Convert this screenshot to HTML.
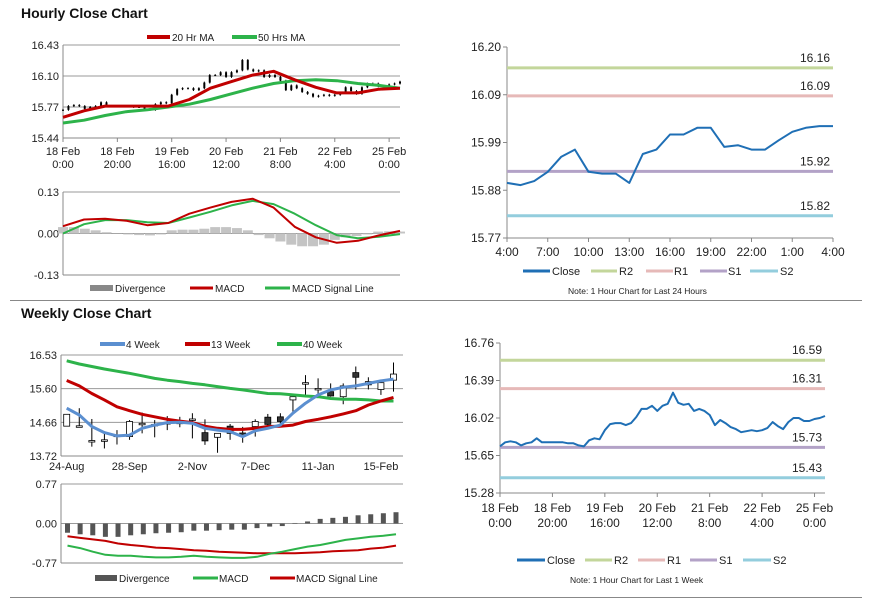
<!DOCTYPE html>
<html><head><meta charset="utf-8">
<style>
html,body{margin:0;padding:0;background:#fff;}
svg{display:block;font-family:"Liberation Sans",Arial,sans-serif;}
</style></head>
<body>
<svg id="root" width="873" height="601" viewBox="0 0 873 601">
  <text x="21" y="18" font-size="14" font-weight="bold" fill="#111">Hourly Close Chart</text>
  <line x1="10" y1="300.5" x2="862" y2="300.5" stroke="#888" stroke-width="1"/>
  <text x="21" y="318" font-size="14" font-weight="bold" fill="#111">Weekly Close Chart</text>
  <line x1="10" y1="597.5" x2="862" y2="597.5" stroke="#888" stroke-width="1"/>

  <g font-size="10" fill="#222">
    <line x1="147" y1="37" x2="170" y2="37" stroke="#c00000" stroke-width="4"/>
    <text x="172" y="41">20 Hr MA</text>
    <line x1="232" y1="37" x2="257" y2="37" stroke="#2db34a" stroke-width="4"/>
    <text x="258" y="41">50 Hrs MA</text>
  </g>
  <g font-size="10" fill="#222">
    <rect x="90" y="285" width="23" height="6" fill="#888"/>
    <text x="115" y="292">Divergence</text>
    <line x1="190" y1="288" x2="213" y2="288" stroke="#c00000" stroke-width="3"/>
    <text x="215" y="292">MACD</text>
    <line x1="265" y1="288" x2="290" y2="288" stroke="#2db34a" stroke-width="3"/>
    <text x="292" y="292">MACD Signal Line</text>
  </g>
  <g font-size="10" fill="#222">
    <line x1="100" y1="344" x2="125" y2="344" stroke="#5b8fd0" stroke-width="4"/>
    <text x="126" y="348">4 Week</text>
    <line x1="185" y1="344" x2="210" y2="344" stroke="#c00000" stroke-width="4"/>
    <text x="211" y="348">13 Week</text>
    <line x1="277" y1="344" x2="302" y2="344" stroke="#2db34a" stroke-width="4"/>
    <text x="303" y="348">40 Week</text>
  </g>
  <g font-size="10" fill="#222">
    <rect x="95" y="575" width="22" height="6" fill="#555"/>
    <text x="119" y="582">Divergence</text>
    <line x1="193" y1="578" x2="218" y2="578" stroke="#2db34a" stroke-width="3"/>
    <text x="219" y="582">MACD</text>
    <line x1="270" y1="578" x2="295" y2="578" stroke="#c00000" stroke-width="3"/>
    <text x="296" y="582">MACD Signal Line</text>
  </g>
  <g font-size="11" fill="#222">
    <line x1="523" y1="271" x2="550" y2="271" stroke="#1f6fb5" stroke-width="3"/>
    <text x="552" y="275">Close</text>
    <line x1="591" y1="271" x2="617" y2="271" stroke="#c3d69b" stroke-width="3"/>
    <text x="619" y="275">R2</text>
    <line x1="646" y1="271" x2="673" y2="271" stroke="#e6b9b8" stroke-width="3"/>
    <text x="674" y="275">R1</text>
    <line x1="700" y1="271" x2="727" y2="271" stroke="#b3a2c7" stroke-width="3"/>
    <text x="728" y="275">S1</text>
    <line x1="750" y1="271" x2="778" y2="271" stroke="#93cddd" stroke-width="3"/>
    <text x="780" y="275">S2</text>
  </g>
  <text x="568" y="294" font-size="8.5" fill="#222">Note: 1 Hour Chart for Last 24 Hours</text>
  <g font-size="11" fill="#222">
    <line x1="517" y1="560" x2="545" y2="560" stroke="#1f6fb5" stroke-width="3"/>
    <text x="547" y="564">Close</text>
    <line x1="585" y1="560" x2="612" y2="560" stroke="#c3d69b" stroke-width="3"/>
    <text x="614" y="564">R2</text>
    <line x1="638" y1="560" x2="665" y2="560" stroke="#e6b9b8" stroke-width="3"/>
    <text x="667" y="564">R1</text>
    <line x1="690" y1="560" x2="717" y2="560" stroke="#b3a2c7" stroke-width="3"/>
    <text x="719" y="564">S1</text>
    <line x1="743" y1="560" x2="771" y2="560" stroke="#93cddd" stroke-width="3"/>
    <text x="773" y="564">S2</text>
  </g>
  <text x="570" y="583" font-size="8.5" fill="#222">Note: 1 Hour Chart for Last 1 Week</text>
</svg>
<script>
const hourlyClose=[15.74,15.78,15.79,15.78,15.75,15.77,15.78,15.82,15.78,15.78,15.78,15.78,15.78,15.77,15.77,15.75,15.74,15.80,15.82,15.81,15.90,15.96,15.97,15.97,15.95,15.97,16.03,16.11,16.11,16.14,16.09,16.14,16.16,16.27,16.17,16.15,16.16,16.09,16.11,16.09,16.05,15.95,16.00,15.97,15.93,15.91,15.88,15.89,15.90,15.89,15.90,15.92,15.98,15.94,15.91,15.98,16.02,16.02,15.99,15.99,16.01,16.02,16.04];
const ma20=[15.66,15.73,15.78,15.78,15.78,15.78,15.85,15.97,16.04,16.11,16.15,16.06,15.98,15.92,15.92,15.96,15.97];
const ma50=[15.60,15.63,15.68,15.72,15.74,15.77,15.80,15.85,15.91,15.97,16.02,16.05,16.06,16.05,16.02,16.00,15.97];
const hMacd=[0.023,0.044,0.046,0.040,0.026,0.033,0.062,0.081,0.099,0.109,0.081,0.021,-0.012,-0.029,-0.023,-0.006,0.008];
const hSignal=[0,0.029,0.042,0.042,0.035,0.033,0.050,0.068,0.088,0.102,0.092,0.062,0.026,-0.005,-0.015,-0.010,-0.002];
const hDiv=[0.02,0.02,0.015,0.01,0.004,0.001,-0.003,-0.005,-0.006,-0.003,0.01,0.012,0.012,0.015,0.02,0.02,0.017,0.01,-0.005,-0.015,-0.025,-0.035,-0.04,-0.04,-0.035,-0.02,-0.012,-0.008,-0.003,0.006,0.007,0.006];
const hourTicks=[["18 Feb","0:00"],["18 Feb","20:00"],["19 Feb","16:00"],["20 Feb","12:00"],["21 Feb","8:00"],["22 Feb","4:00"],["25 Feb","0:00"]];
const hourPriceTicks=["16.43","16.10","15.77","15.44"];
const hourMacdTicks=["0.13","0.00","-0.13"];
const wOpen=[14.55,14.56,14.15,14.17,14.30,14.26,14.63,14.60,14.65,14.66,14.75,14.37,14.24,14.55,14.36,14.54,14.80,14.81,15.28,15.76,15.60,15.51,15.37,16.04,15.70,15.57,15.83];
const wClose=[14.88,14.56,14.15,14.17,14.30,14.68,14.63,14.60,14.65,14.66,14.75,14.14,14.35,14.35,14.27,14.68,14.60,14.68,15.37,15.76,15.60,15.39,15.67,15.91,15.79,15.76,16.00];
const wHigh=[14.88,15.05,14.75,14.40,14.44,14.72,14.93,14.72,14.83,14.81,14.91,14.74,14.26,14.61,14.53,14.74,14.89,14.91,15.37,15.97,15.88,15.74,15.74,16.21,15.91,15.83,16.32];
const wLow=[14.55,14.52,13.98,13.93,14.04,14.17,14.35,14.24,14.44,14.52,14.21,14.03,13.81,14.17,14.09,14.26,14.55,14.55,14.91,15.37,15.37,15.37,15.16,15.57,15.57,15.42,15.51];
const w4=[15.05,14.86,14.54,14.37,14.28,14.30,14.49,14.58,14.65,14.66,14.63,14.49,14.44,14.40,14.26,14.42,14.49,14.58,14.91,15.19,15.42,15.56,15.63,15.67,15.74,15.81,15.86];
const w13=[15.82,15.67,15.46,15.28,15.09,14.98,14.88,14.81,14.74,14.69,14.65,14.55,14.49,14.46,14.46,14.49,14.54,14.55,14.58,14.68,14.74,14.81,14.89,14.98,15.14,15.25,15.35];
const w40=[16.37,16.28,16.21,16.14,16.08,16.02,15.95,15.88,15.83,15.79,15.74,15.70,15.65,15.60,15.56,15.51,15.46,15.45,15.42,15.39,15.37,15.32,15.30,15.30,15.28,15.25,15.25];
const wDiv=[-0.18,-0.21,-0.23,-0.26,-0.26,-0.23,-0.21,-0.19,-0.18,-0.17,-0.14,-0.14,-0.13,-0.12,-0.12,-0.09,-0.06,-0.05,0.01,0.04,0.09,0.11,0.13,0.16,0.18,0.20,0.22];
const wMacd=[-0.43,-0.48,-0.55,-0.61,-0.63,-0.63,-0.65,-0.66,-0.66,-0.65,-0.63,-0.65,-0.66,-0.67,-0.67,-0.65,-0.59,-0.55,-0.50,-0.45,-0.42,-0.37,-0.32,-0.29,-0.26,-0.24,-0.21];
const wSignal=[-0.25,-0.28,-0.31,-0.34,-0.39,-0.42,-0.44,-0.47,-0.48,-0.50,-0.52,-0.53,-0.55,-0.56,-0.57,-0.58,-0.58,-0.58,-0.58,-0.57,-0.56,-0.54,-0.53,-0.52,-0.49,-0.47,-0.43];
const weekTicks=["24-Aug","28-Sep","2-Nov","7-Dec","11-Jan","15-Feb"];
const weekPriceTicks=["16.53","15.60","14.66","13.72"];
const weekMacdTicks=["0.77","0.00","-0.77"];
const dayClose=[15.894,15.889,15.898,15.919,15.953,15.969,15.919,15.915,15.915,15.894,15.959,15.969,16.003,16.003,16.018,16.018,15.975,15.979,15.969,15.969,15.990,16.009,16.018,16.022,16.022];
const dayTicks=["4:00","7:00","10:00","13:00","16:00","19:00","22:00","1:00","4:00"];
const dayPriceTicks=["16.20","16.09","15.99","15.88","15.77"];
const dayLevels=[16.153,16.09,15.92,15.82];
const dayLevelLabels=["16.16","16.09","15.92","15.82"];
const weekLevels=[16.59,16.31,15.73,15.43];
const weekLevelLabels=["16.59","16.31","15.73","15.43"];
const weekPriceTicksR=["16.76","16.39","16.02","15.65","15.28"];
const levelColors=["#c3d69b","#e6b9b8","#b3a2c7","#93cddd"];

const NS="http://www.w3.org/2000/svg";
const root=document.getElementById('root');
function mk(tag,attrs,parent){const e=document.createElementNS(NS,tag);for(const k in attrs)e.setAttribute(k,attrs[k]);(parent||root).appendChild(e);return e;}
function lin(d0,d1,r0,r1){return v=>r0+(v-d0)/(d1-d0)*(r1-r0);}
function yTicks(g,labels,x0,x1,y0,y1,gridAll){
  const n=labels.length;
  labels.forEach((t,i)=>{
    const y=y0+(y1-y0)*i/(n-1);
    if(i<n-1||gridAll){const l=mk('line',{x1:x0,x2:x1,y1:y,y2:y,stroke:'#999','stroke-width':1},g);
    
    }
    const tx=mk('text',{x:x0-4,y:y+4,'font-size':11,'text-anchor':'end',fill:'#222'},g);
    tx.textContent=t;
    
    
  });
  const ax=mk('line',{x1:x0,x2:x0,y1:y0,y2:y1,stroke:'#888','stroke-width':1},g);
  
  
  const bx=mk('line',{x1:x0,x2:x1,y1:y1,y2:y1,stroke:'#888','stroke-width':1},g);
  
  
}
function polyline(g,xs,ys,color,w,name){
  const p=mk('polyline',{points:xs.map((x,i)=>x.toFixed(1)+','+ys[i].toFixed(1)).join(' '),fill:'none',stroke:color,'stroke-width':w,'stroke-linejoin':'round'},g);
  
  
  return p;
}
function twoLineTicks(g,ticks,xf,yAxis){
  ticks.forEach((t,i)=>{
    const x=xf(i);
    const tk=mk('line',{x1:x,x2:x,y1:yAxis,y2:yAxis+4,stroke:'#888'},g);
    
    
    const a=mk('text',{x:x,y:yAxis+17,'font-size':11,'text-anchor':'middle',fill:'#222'},g);a.textContent=t[0];
    
    
    const b=mk('text',{x:x,y:yAxis+30,'font-size':11,'text-anchor':'middle',fill:'#222'},g);b.textContent=t[1];
    
    
  });
}

(function(){
  const g=mk('g',{});
  
  
  const X0=63,X1=400,Y0=45,Y1=138;
  const y=lin(16.43,15.44,Y0,Y1);
  const xh=lin(0,124,X0,X1);
  yTicks(g,hourPriceTicks,X0,X1,Y0,Y1,false);
  twoLineTicks(g,hourTicks,i=>xh(i*20),Y1);
  const step=124/(hourlyClose.length-1);
  hourlyClose.forEach((c,i)=>{
    const o=i>0?hourlyClose[i-1]:c;
    const x=xh(i*step);
    const hi=Math.max(o,c)+0.01,lo=Math.min(o,c)-0.01;
    const wk=mk('line',{x1:x,x2:x,y1:y(hi),y2:y(lo),stroke:'#000','stroke-width':1},g);
    
    
    const top=y(Math.max(o,c)),bot=y(Math.min(o,c));
    const r=mk('rect',{x:x-1,y:top,width:2,height:Math.max(1,bot-top),fill:'#000'},g);
    
    
  });
  const ms=124/(ma20.length-1);
  polyline(g,ma50.map((v,i)=>xh(i*ms)),ma50.map(y),'#2db34a',3,'ma-50hr-line');
  polyline(g,ma20.map((v,i)=>xh(i*ms)),ma20.map(y),'#c00000',3,'ma-20hr-line');
})();

(function(){
  const g=mk('g',{});
  
  
  const X0=63,X1=400,Y0=192,Y1=275;
  const y=lin(0.13,-0.13,Y0,Y1);
  const xh=lin(0,124,X0,X1);
  yTicks(g,hourMacdTicks,X0,X1,Y0,Y1,false);
  const ds=124/(hDiv.length-1);
  hDiv.forEach((v,i)=>{
    const x=xh(i*ds);
    const r=mk('rect',{x:x-5,y:Math.min(y(0),y(v)),width:10,height:Math.abs(y(v)-y(0)),fill:'#c4c4c4'},g);
    
    
  });
  const ms=124/(hMacd.length-1);
  polyline(g,hSignal.map((v,i)=>xh(i*ms)),hSignal.map(y),'#2db34a',2,'macd-signal-line');
  polyline(g,hMacd.map((v,i)=>xh(i*ms)),hMacd.map(y),'#c00000',2,'macd-line');
})();

(function(){
  const g=mk('g',{});
  
  
  const X0=61,X1=403,Y0=355,Y1=456;
  const y=lin(16.53,13.72,Y0,Y1);
  const xw=lin(0,26,66.7,393.5);
  yTicks(g,weekPriceTicks,X0,X1,Y0,Y1,false);
  weekTicks.forEach((t,i)=>{
    const tx=mk('text',{x:xw(i*5),y:Y1+14,'font-size':11,'text-anchor':'middle',fill:'#222'},g);
    tx.textContent=t;
    
    
  });
  wClose.forEach((c,i)=>{
    const o=wOpen[i],x=xw(i);
    const wk=mk('line',{x1:x,x2:x,y1:y(wHigh[i]),y2:y(wLow[i]),stroke:'#000','stroke-width':1},g);
    
    
    const top=y(Math.max(o,c)),bot=y(Math.min(o,c));
    const r=mk('rect',{x:x-3,y:top,width:6,height:Math.max(1.5,bot-top),fill:c<o?'#333':'#fff',stroke:'#000','stroke-width':0.8},g);
    
    
  });
  polyline(g,w40.map((v,i)=>xw(i)),w40.map(y),'#2db34a',3,'ma-40wk-line');
  polyline(g,w13.map((v,i)=>xw(i)),w13.map(y),'#c00000',3,'ma-13wk-line');
  polyline(g,w4.map((v,i)=>xw(i)),w4.map(y),'#5b8fd0',3,'ma-4wk-line');
})();

(function(){
  const g=mk('g',{});
  
  
  const X0=61,X1=403,Y0=484,Y1=563;
  const y=lin(0.77,-0.77,Y0,Y1);
  const xw=lin(0,26,67.5,396);
  yTicks(g,weekMacdTicks,X0,X1,Y0,Y1,false);
  wDiv.forEach((v,i)=>{
    const r=mk('rect',{x:xw(i)-2.5,y:Math.min(y(0),y(v)),width:5,height:Math.abs(y(v)-y(0)),fill:'#555'},g);
    
    
  });
  polyline(g,wSignal.map((v,i)=>xw(i)),wSignal.map(y),'#c00000',2,'weekly-signal-line');
  polyline(g,wMacd.map((v,i)=>xw(i)),wMacd.map(y),'#2db34a',2,'weekly-macd-line');
})();

function pivot(name,X0,X1,Y0,Y1,vmax,vmin,ticks,levels,labels,closeArr,xf,xLabels){
  const g=mk('g',{});
  
  
  const y=lin(vmax,vmin,Y0,Y1);
  ticks.forEach((t,i)=>{
    const yy=Y0+(Y1-Y0)*i/(ticks.length-1);
    const tk=mk('line',{x1:X0-4,x2:X0,y1:yy,y2:yy,stroke:'#888'},g);
    
    
    const tx=mk('text',{x:X0-6,y:yy+4,'font-size':12,'text-anchor':'end',fill:'#222'},g);
    tx.textContent=t;
    
    
  });
  const ax=mk('line',{x1:X0,x2:X0,y1:Y0,y2:Y1,stroke:'#888'},g);
  
  
  const bx=mk('line',{x1:X0,x2:X1,y1:Y1,y2:Y1,stroke:'#888'},g);
  
  
  xLabels(g);
  levels.forEach((v,i)=>{
    const l=mk('line',{x1:X0,x2:X1,y1:y(v),y2:y(v),stroke:levelColors[i],'stroke-width':3},g);
    
    
    const tx=mk('text',{x:X1-3,y:y(v)-6,'font-size':12,'text-anchor':'end',fill:'#222'},g);
    tx.textContent=labels[i];
    
    
  });
  polyline(g,closeArr.map((v,i)=>xf(i)),closeArr.map(y),'#1f6fb5',2,'close-line');
}
(function(){
  const X0=507,X1=833,Y1=238;
  const xd=lin(0,24,X0,X1);
  pivot('day-pivot-chart',X0,X1,47,Y1,16.20,15.77,dayPriceTicks,dayLevels,dayLevelLabels,dayClose,xd,function(g){
    dayTicks.forEach((t,i)=>{
      const x=xd(i*3);
      const tk=mk('line',{x1:x,x2:x,y1:Y1,y2:Y1+4,stroke:'#888'},g);
      
      
      const tx=mk('text',{x:x,y:Y1+18,'font-size':12,'text-anchor':'middle',fill:'#222'},g);
      tx.textContent=t;
      
      
    });
  });
})();
(function(){
  const X0=500,X1=825,Y1=493;
  const xh=lin(0,124,X0,X1);
  const step=124/(hourlyClose.length-1);
  pivot('week-pivot-chart',X0,X1,343,Y1,16.76,15.28,weekPriceTicksR,weekLevels,weekLevelLabels,hourlyClose,i=>xh(i*step),function(g){
    hourTicks.forEach((t,i)=>{
      const x=xh(i*20);
      const tk=mk('line',{x1:x,x2:x,y1:Y1,y2:Y1+4,stroke:'#888'},g);
      
      
      const a=mk('text',{x:x,y:Y1+19,'font-size':12,'text-anchor':'middle',fill:'#222'},g);a.textContent=t[0];
      
      
      const b=mk('text',{x:x,y:Y1+34,'font-size':12,'text-anchor':'middle',fill:'#222'},g);b.textContent=t[1];
      
      
    });
  });
})();
</script>
</body></html>
